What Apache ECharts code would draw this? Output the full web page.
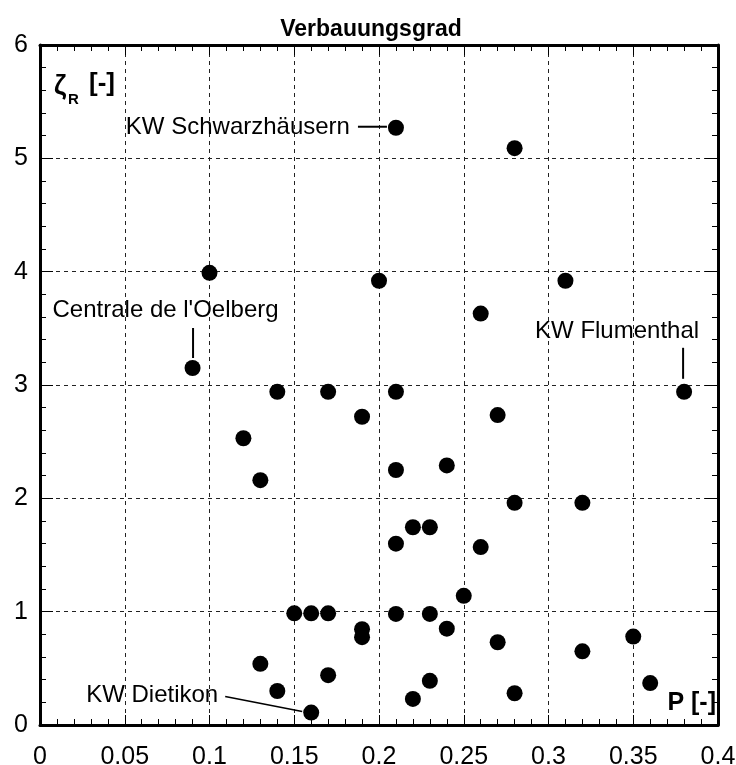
<!DOCTYPE html>
<html>
<head>
<meta charset="utf-8">
<script src="https://cdn.jsdelivr.net/npm/echarts@6/dist/echarts.min.js"></script>
<style>
  html, body { margin: 0; padding: 0; background: #fff; }
  #chart { width: 736px; height: 765px; }
</style>
</head>
<body>
<div id="chart"></div>
<script>
// Verbauungsgrad: obstruction ratio zeta_R against P for each plant
const pValues = [
  0.09, 0.10, 0.12, 0.13, 0.13, 0.14, 0.14, 0.15, 0.16, 0.16,
  0.17, 0.17, 0.17, 0.19, 0.19, 0.19, 0.20, 0.21, 0.21, 0.21,
  0.21, 0.21, 0.22, 0.22, 0.23, 0.23, 0.23, 0.24, 0.24, 0.25,
  0.26, 0.26, 0.27, 0.27, 0.28, 0.28, 0.28, 0.31, 0.32, 0.32,
  0.35, 0.36, 0.38
];
const zetaValues = [
  3.15, 3.99, 2.53, 2.16, 0.54, 2.94, 0.30, 0.985, 0.985, 0.11,
  2.94, 0.985, 0.44, 2.72, 0.845, 0.775, 3.92, 5.27, 2.94, 2.25,
  1.60, 0.98, 1.745, 0.23, 1.745, 0.98, 0.39, 2.29, 0.85, 1.14,
  3.63, 1.57, 2.735, 0.73, 5.09, 1.96, 0.28, 3.92, 1.96, 0.65,
  0.78, 0.37, 2.94
];
// named plants: index into the arrays above
const plantNames = ['KW Schwarzhäusern', "Centrale de l'Oelberg", 'KW Flumenthal', 'KW Dietikon'];
const plantIndex = [17, 0, 42, 9];

const xTicks = [0, 0.05, 0.1, 0.15, 0.2, 0.25, 0.3, 0.35, 0.4];
const yTicks = [0, 1, 2, 3, 4, 5, 6];

const FONT = '"Liberation Sans", Arial, Helvetica, sans-serif';

const chart = echarts.init(document.getElementById('chart'));

const frameLine = { show: true, onZero: false, lineStyle: { color: '#000', width: 3 } };
const gridDash = { show: true, lineStyle: { color: '#222', width: 1, type: [4, 4] } };

function xAxisCfg(pos, primary) {
  return {
    type: 'value', position: pos,
    min: xTicks[0], max: xTicks[xTicks.length - 1], interval: xTicks[1] - xTicks[0],
    axisLine: frameLine,
    axisTick: { show: true, inside: true, length: 10, lineStyle: { color: '#000', width: 1 } },
    minorTick: { show: true, splitNumber: 5, length: 6, lineStyle: { color: '#000', width: 1 } },
    splitLine: primary ? gridDash : { show: false },
    axisLabel: primary ? { show: true, margin: 20, color: '#000', fontSize: 25, fontFamily: FONT,
      formatter: v => String(+v.toFixed(2)) } : { show: false }
  };
}
function yAxisCfg(pos, primary) {
  return {
    type: 'value', position: pos,
    min: yTicks[0], max: yTicks[yTicks.length - 1], interval: yTicks[1] - yTicks[0],
    axisLine: frameLine,
    axisTick: { show: true, inside: true, length: 13, lineStyle: { color: '#000', width: 1 } },
    minorTick: { show: true, splitNumber: 5, length: 6, lineStyle: { color: '#000', width: 1 } },
    splitLine: primary ? gridDash : { show: false },
    axisLabel: primary ? { show: true, margin: 12, color: '#000', fontSize: 25, fontFamily: FONT } : { show: false }
  };
}

chart.setOption({
  animation: false,
  backgroundColor: '#fff',
  title: {
    text: 'Verbauungsgrad', left: 366, top: 13, textAlign: 'center',
    textStyle: { fontSize: 23, fontWeight: 'bold', color: '#000', fontFamily: FONT }
  },
  grid: { left: 40, right: 18, top: 45, bottom: 40, containLabel: false, outerBoundsMode: 'none' },
  xAxis: [xAxisCfg('bottom', true), xAxisCfg('top', false)],
  yAxis: [yAxisCfg('left', true), yAxisCfg('right', false)],
  series: [{
    type: 'scatter',
    xAxisIndex: 0, yAxisIndex: 0,
    symbol: 'circle', symbolSize: 16,
    itemStyle: { color: '#000', opacity: 1 },
    data: pValues.map((p, i) => [p, zetaValues[i]]),
    z: 5
  }]
});

// Annotations placed relative to the pixel position of each named plant
const annFont = '24px ' + FONT;
const pts = plantIndex.map(i => chart.convertToPixel({ seriesIndex: 0 }, [pValues[i], zetaValues[i]]));
const [s, o, f, d] = pts;
const lineStyle = { stroke: '#000', lineWidth: 2 };

const elements = [
  // KW Schwarzhäusern
  { type: 'text', style: { text: plantNames[0], x: s[0] - 46, y: s[1], textAlign: 'right', textVerticalAlign: 'middle', font: annFont, fill: '#000' } },
  { type: 'line', shape: { x1: s[0] - 38, y1: s[1] - 1, x2: s[0] - 9, y2: s[1] - 1 }, style: lineStyle },
  // Centrale de l'Oelberg
  { type: 'text', style: { text: plantNames[1], x: o[0] - 27, y: o[1] - 58, textAlign: 'center', textVerticalAlign: 'middle', font: annFont, fill: '#000' } },
  { type: 'line', shape: { x1: o[0] + 0.5, y1: o[1] - 40, x2: o[0] + 0.5, y2: o[1] - 10 }, style: lineStyle },
  // KW Flumenthal
  { type: 'text', style: { text: plantNames[2], x: f[0] + 15, y: f[1] - 60, textAlign: 'right', textVerticalAlign: 'middle', font: annFont, fill: '#000' } },
  { type: 'line', shape: { x1: f[0] - 1, y1: f[1] - 44, x2: f[0] - 1, y2: f[1] - 13 }, style: lineStyle },
  // KW Dietikon
  { type: 'text', style: { text: plantNames[3], x: d[0] - 93, y: d[1] - 17, textAlign: 'right', textVerticalAlign: 'middle', font: annFont, fill: '#000' } },
  { type: 'line', shape: { x1: d[0] - 86, y1: d[1] - 16, x2: d[0] - 9, y2: d[1] - 1 }, style: { stroke: '#000', lineWidth: 1.5 } },
  // axis names
  { type: 'text', style: { text: 'ζ', x: 54, y: 87, textAlign: 'left', textVerticalAlign: 'middle', font: 'bold 27px ' + FONT, fill: '#000' } },
  { type: 'text', style: { text: 'R', x: 68, y: 100, textAlign: 'left', textVerticalAlign: 'middle', font: 'bold 15px ' + FONT, fill: '#000' } },
  { type: 'text', style: { text: '[-]', x: 89, y: 84, textAlign: 'left', textVerticalAlign: 'middle', font: 'bold 26px ' + FONT, fill: '#000' } },
  { type: 'text', style: { text: 'P [-]', x: 716, y: 703, textAlign: 'right', textVerticalAlign: 'middle', font: 'bold 25px ' + FONT, fill: '#000' } }
];
chart.setOption({ graphic: { elements: elements.map(e => Object.assign({ z: 10 }, e)) } });
</script>
</body>
</html>
